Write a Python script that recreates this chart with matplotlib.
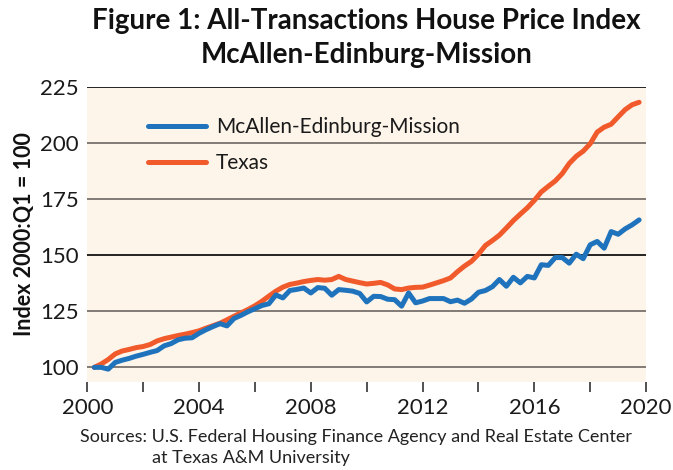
import numpy as np
import matplotlib
matplotlib.use("Agg")
import matplotlib.pyplot as plt

# ── Dati: indice trimestrale, 2000Q1 .. 2019Q3 ──
first_quarter = 2000.25   # 2000Q1 disegnato a fine trimestre
n_quarters    = 79

texas = [
    100.0, 101.5, 103.5,
    106.0, 107.3, 108.0, 108.8,
    109.3, 110.2, 111.8, 112.8,
    113.5, 114.2, 114.8, 115.5,
    116.3, 117.5, 118.6, 119.7,
    121.2, 122.8, 124.3, 125.8,
    127.5, 129.5, 131.8, 134.0,
    135.8, 137.0, 137.6, 138.3,
    138.8, 139.2, 138.9, 139.2,
    140.6, 139.2, 138.5, 137.8,
    137.2, 137.5, 137.9, 136.8,
    135.0, 134.7, 135.4, 135.7,
    135.8, 136.7, 137.7, 138.7,
    139.9, 142.7, 145.2, 147.3,
    150.5, 154.4, 156.6, 159.0,
    162.2, 165.5, 168.4, 171.2,
    174.5, 178.3, 180.8, 183.2,
    186.5, 191.0, 194.2, 196.5,
    199.8, 205.0, 207.2, 208.5,
    211.8, 215.0, 217.2, 218.3,
]

mcallen = [
    100.0, 100.0, 99.2,
    102.2, 103.2, 104.0, 105.0,
    105.8, 106.7, 107.5, 109.6,
    110.6, 112.3, 113.0, 113.2,
    115.2, 116.8, 118.2, 119.5,
    118.5, 121.8, 123.2, 124.8,
    126.2, 127.6, 128.4, 132.3,
    131.0, 134.3, 134.8, 135.4,
    133.2, 135.6, 135.3, 132.2,
    134.7, 134.4, 134.0, 133.0,
    129.2, 131.7, 131.6, 130.4,
    130.2, 127.3, 133.2, 128.8,
    129.6, 130.7, 130.7, 130.7,
    129.3, 130.0, 128.6, 130.5,
    133.5, 134.3, 136.0, 139.2,
    136.2, 140.2, 137.7, 140.6,
    139.9, 145.8, 145.5, 149.0,
    149.0, 146.5, 150.5, 148.5,
    154.7, 156.2, 153.2, 160.6,
    159.4, 161.8, 163.6, 165.8,
]

x_major = [2000, 2004, 2008, 2012, 2016, 2020]
x_minor = [2002, 2006, 2010, 2014, 2018]
y_ticks = [100, 125, 150, 175, 200, 225]

BLUE   = '#1f73bd'
ORANGE = '#f15a2b'
CREAM  = '#fdf4ea'
GRID   = '#6e6660'

plt.rcParams['font.family'] = ['Lato', 'DejaVu Sans']

anni = first_quarter + np.arange(n_quarters) / 4

fig = plt.figure(figsize=(6.73, 4.70), dpi=100)
ax = fig.add_axes([0.1297, 0.1879, 0.8303, 0.6264])
ax.set_facecolor(CREAM)

# griglia orizzontale (225 e 150 più scure, come nell'originale)
for yv in y_ticks:
    col = 'black' if yv in (150, 225) else GRID
    ax.axhline(yv, color=col, linewidth=1.2, zorder=1)

ax.plot(anni, mcallen, color=BLUE, linewidth=3.6, solid_capstyle='round',
        solid_joinstyle='round', label='McAllen-Edinburg-Mission', zorder=3)
ax.plot(anni, texas, color=ORANGE, linewidth=3.6, solid_capstyle='round',
        solid_joinstyle='round', label='Texas', zorder=2)

ax.set_xlim(2000, 2020)
ax.set_ylim(93.6, 225)

for s in ax.spines.values():
    s.set_visible(False)

ax.set_xticks(x_major)
ax.set_xticks(x_minor, minor=True)
ax.tick_params(axis='x', which='both', length=7, width=1.2, color='#333333',
               direction='out', labelsize=16, pad=5, labelcolor='#1a1a1a')
ax.set_yticks(y_ticks)
ax.tick_params(axis='y', length=0, labelsize=16, pad=6, labelcolor='#1a1a1a')

ax.set_ylabel('Index 2000:Q1 = 100', fontsize=15.5, fontweight='bold',
              color='#111111', labelpad=4)

leg = ax.legend(loc='upper left', bbox_to_anchor=(0.09, 0.935), frameon=False,
                fontsize=15, handlelength=2.8, handletextpad=0.45,
                labelspacing=0.8, borderpad=0)
for t in leg.get_texts():
    t.set_color('#1a1a1a')

# titolo centrato sull'area del grafico
fig.text(0.545, 0.982, 'Figure 1: All-Transactions House Price Index\nMcAllen-Edinburg-Mission',
         ha='center', va='top', fontsize=20, fontweight='bold',
         linespacing=1.35, color='#111111')

fig.text(0.119, 0.07, 'Sources: U.S. Federal Housing Finance Agency and Real Estate Center',
         ha='left', va='center', fontsize=13, color='#222222')
fig.text(0.226, 0.025, 'at Texas A&M University',
         ha='left', va='center', fontsize=13, color='#222222')

fig.savefig('out.png', dpi=100)
